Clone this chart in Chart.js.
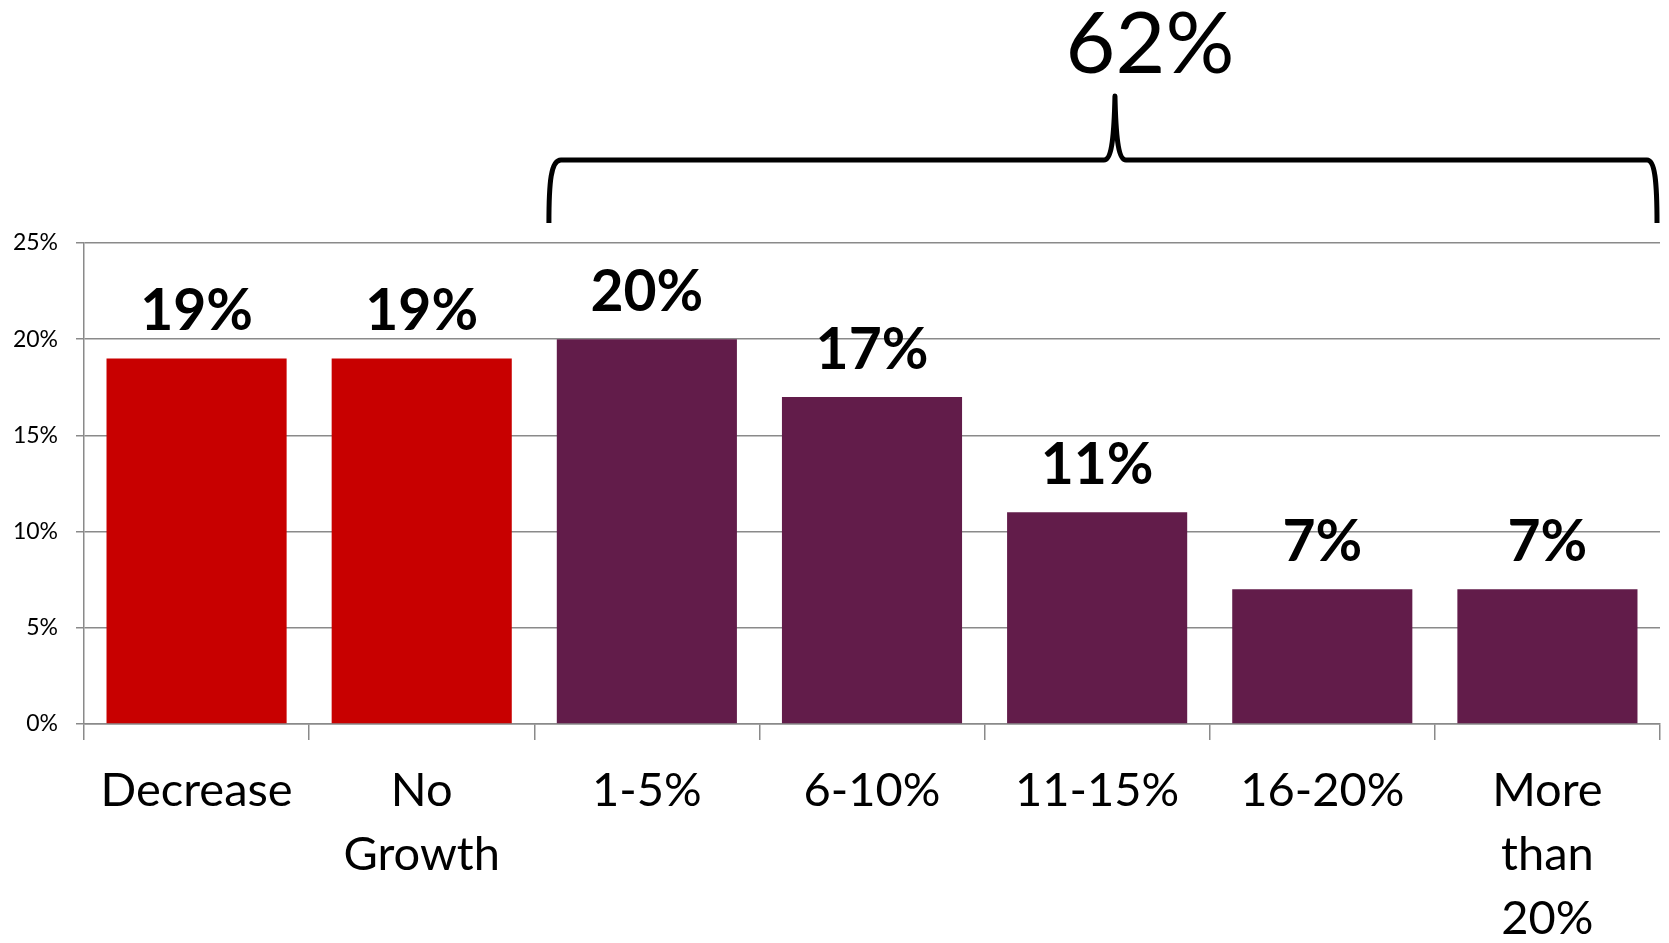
<!DOCTYPE html>
<html>
<head>
<meta charset="utf-8">
<script src="https://cdn.jsdelivr.net/npm/chart.js@4/dist/chart.umd.min.js"></script>
<style>
  html, body { margin: 0; padding: 0; background: #fff; }
  #wrap { width: 1669px; height: 943px; position: relative; }
</style>
</head>
<body>
<div id="wrap"><canvas id="growthChart"></canvas></div>
<script>
// chart data
const categories = ['Decrease', ['No', 'Growth'], '1-5%', '6-10%', '11-15%', '16-20%', ['More', 'than', '20%']];
const values = [19, 19, 20, 17, 11, 7, 7];
const barColors = ['#C80000', '#C80000', '#621C4A', '#621C4A', '#621C4A', '#621C4A', '#621C4A'];
const yTicks = [0, 5, 10, 15, 20, 25];
const braceFrom = 2; // brace covers categories from here to the end

const FONT = 'Lato, "Open Sans", sans-serif';
const GRID = '#8a8a8a';

// value labels above bars + brace with total
const braceAndLabels = {
    id: 'braceAndLabels',
    afterDatasetsDraw(chart) {
        const ctx = chart.ctx;
        const area = chart.chartArea;
        const meta = chart.getDatasetMeta(0);
        ctx.save();
        ctx.fillStyle = '#000';
        ctx.textAlign = 'center';
        ctx.textBaseline = 'alphabetic';
        ctx.font = 'bold 57px ' + FONT;
        meta.data.forEach((bar, i) => {
            ctx.fillText(values[i] + '%', bar.x, bar.y - 28);
        });

        // the brace
        const xs = chart.scales.x;
        const catW = (area.right - area.left) / categories.length;
        const left = xs.getPixelForValue(braceFrom) - 0.435 * catW;
        const right = area.right - 3;
        const peak = (left + right) / 2 + 12;
        const yH = area.top - 83, yEnd = area.top - 20, yTip = area.top - 147;
        ctx.lineWidth = 5;
        ctx.strokeStyle = '#000';
        ctx.lineJoin = 'round';
        ctx.beginPath();
        ctx.moveTo(left, yEnd);
        ctx.bezierCurveTo(left, yH + 22, left + 2, yH, left + 12, yH);
        ctx.lineTo(peak - 11, yH);
        ctx.bezierCurveTo(peak - 4, yH, peak - 1, yH - 18, peak, yTip);
        ctx.bezierCurveTo(peak + 1, yH - 18, peak + 4, yH, peak + 11, yH);
        ctx.lineTo(right - 10, yH);
        ctx.bezierCurveTo(right - 2, yH, right, yH + 22, right, yEnd);
        ctx.stroke();

        let total = 0;
        for (let i = braceFrom; i < values.length; i++) total += values[i];
        ctx.font = '86px ' + FONT;
        ctx.fillText(total + '%', peak + 35, area.top - 170);
        ctx.restore();
    }
};

const ctx = document.getElementById('growthChart').getContext('2d');
new Chart(ctx, {
    type: 'bar',
    data: {
        labels: categories,
        datasets: [{
            data: values,
            backgroundColor: barColors,
            borderWidth: 0,
            categoryPercentage: 0.8,
            barPercentage: 1.0
        }]
    },
    options: {
        responsive: true,
        maintainAspectRatio: false,
        animation: false,
        layout: { padding: { top: 243, right: 9, left: 0, bottom: 0 } },
        plugins: {
            legend: { display: false },
            tooltip: { enabled: false }
        },
        scales: {
            x: {
                grid: {
                    display: true,
                    drawOnChartArea: false,
                    offset: true,
                    tickLength: 16,
                    color: GRID,
                    lineWidth: 1.5
                },
                border: { color: GRID, width: 1.5 },
                ticks: {
                    color: '#000',
                    padding: 19,
                    maxRotation: 0,
                    autoSkip: false,
                    font: { family: FONT, size: 47, lineHeight: 1.36 }
                },
                afterFit(scale) { scale.height = 219; }
            },
            y: {
                min: 0,
                max: 25,
                afterBuildTicks(scale) {
                    scale.ticks = yTicks.map(v => ({ value: v }));
                },
                grid: {
                    color: GRID,
                    lineWidth: 1.5,
                    tickLength: 8
                },
                border: { color: GRID, width: 1.5 },
                ticks: {
                    color: '#000',
                    padding: 18,
                    font: { family: FONT, size: 23 },
                    callback: v => v + '%'
                },
                afterFit(scale) { scale.width = 84; }
            }
        }
    },
    plugins: [braceAndLabels]
});
</script>
</body>
</html>
